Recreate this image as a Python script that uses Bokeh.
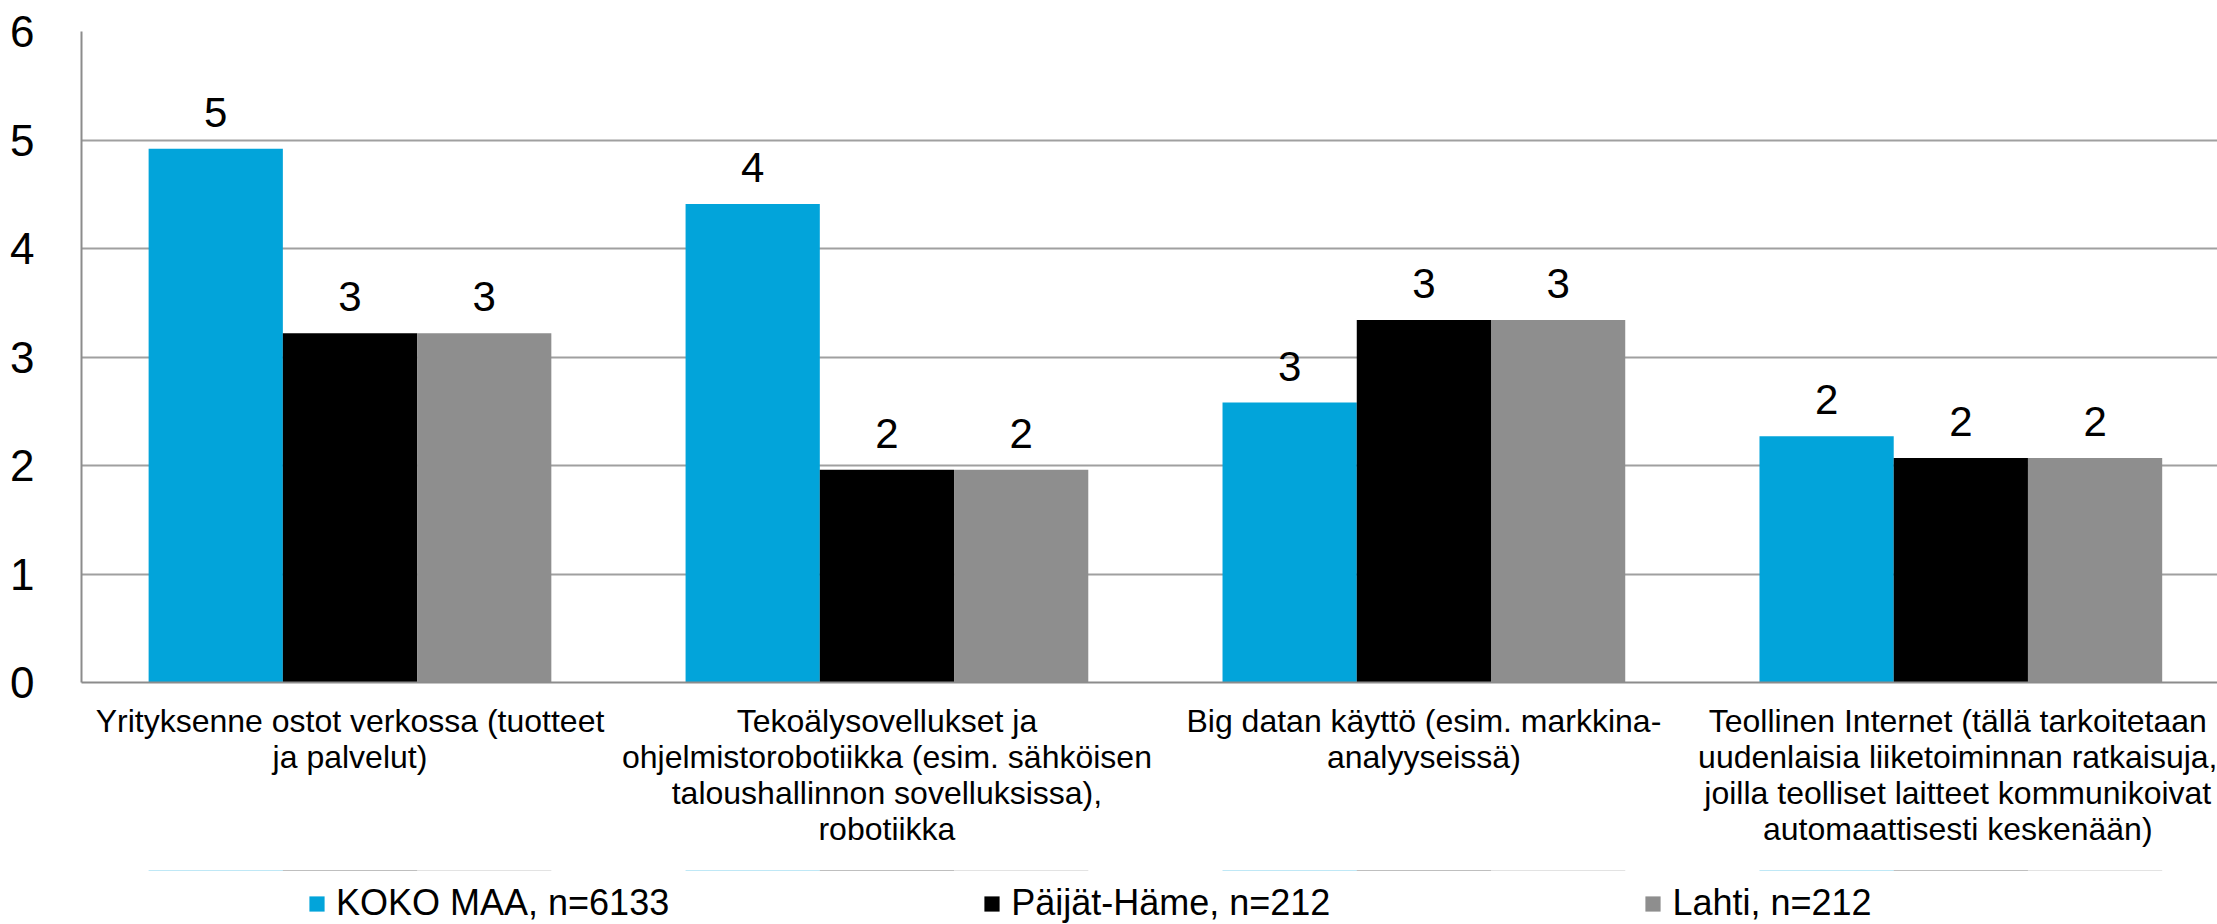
from bokeh.plotting import figure
from bokeh.models import ColumnDataSource, FixedTicker, Range1d, Legend, LegendItem
from bokeh.layouts import column
from bokeh.core.properties import value
from bokeh.embed import file_html
from bokeh.resources import INLINE

categories = [
    "Yrityksenne ostot verkossa (tuotteet\nja palvelut)",
    "Tekoälysovellukset ja\nohjelmistorobotiikka (esim. sähköisen\ntaloushallinnon sovelluksissa),\nrobotiikka",
    "Big datan käyttö (esim. markkina-\nanalyyseissä)",
    "Teollinen Internet (tällä tarkoitetaan\nuudenlaisia liiketoiminnan ratkaisuja,\njoilla teolliset laitteet kommunikoivat\nautomaattisesti keskenään)",
]
series_names = ["KOKO MAA, n=6133", "Päijät-Häme, n=212", "Lahti, n=212"]
koko_maa = [4.92, 4.41, 2.58, 2.27]
paijat_hame = [3.22, 1.96, 3.34, 2.07]
lahti = [3.22, 1.96, 3.34, 2.07]
y_ticks = [0, 1, 2, 3, 4, 5, 6]

colors = ["#02A4DA", "#000000", "#8E8E8E"]
FONT = "Liberation Sans"

W = 2217
H_MAIN, H_LEG = 870, 54
p = figure(width=W, height=H_MAIN, output_backend="svg", toolbar_location=None,
           x_range=Range1d(0, 3.978), y_range=Range1d(0, 6),
           min_border_left=81, min_border_top=31, min_border_bottom=188, min_border_right=0)
p.outline_line_color = None
p.background_fill_color = "white"
p.border_fill_color = "white"

centers = [i + 0.5 for i in range(len(categories))]
offsets = [-0.25, 0.0, 0.25]
bar_w = 0.25
all_series = [koko_maa, paijat_hame, lahti]
sources = []
for vals, off, col in zip(all_series, offsets, colors):
    src = ColumnDataSource(dict(x=[c + off for c in centers], top=vals,
                                lab=[f"{v:.0f}" for v in vals]))
    sources.append(src)
    p.vbar(x="x", top="top", width=bar_w, bottom=0, source=src,
           fill_color=col, line_color=None)
    p.text(x="x", y="top", text="lab", source=src, text_align="center",
           text_baseline="bottom", y_offset=-22, text_font=value(FONT),
           text_font_size="42px", text_color="black")

# axes
p.yaxis.ticker = FixedTicker(ticks=y_ticks)
p.yaxis.major_label_text_font = FONT
p.yaxis.major_label_text_font_size = "44px"
p.yaxis.major_label_text_color = "black"
p.yaxis.major_label_standoff = 41
p.yaxis.major_tick_line_color = None
p.yaxis.minor_tick_line_color = None
p.yaxis.axis_line_color = "#8C8C8C"
p.yaxis.axis_line_width = 2

p.xaxis.ticker = FixedTicker(ticks=centers)
p.xaxis.major_label_overrides = {c: lab for c, lab in zip(centers, categories)}
p.xaxis.major_label_text_font = FONT
p.xaxis.major_label_text_font_size = "32px"
p.xaxis.major_label_text_line_height = 1.0
p.xaxis.major_label_text_color = "black"
p.xaxis.major_label_standoff = 14
p.xaxis.major_tick_line_color = None
p.xaxis.minor_tick_line_color = None
p.xaxis.axis_line_color = "#8C8C8C"
p.xaxis.axis_line_width = 2

p.xgrid.grid_line_color = None
p.ygrid.grid_line_color = "#A0A0A0"
p.ygrid.grid_line_width = 2

# legend strip: zero-height swatch renderers (bottom == top) only supply the legend colours
lg = figure(width=W, height=H_LEG, output_backend="svg", toolbar_location=None,
            x_axis_type=None, y_axis_type=None, x_range=Range1d(0, 3.978),
            y_range=Range1d(-100, -99), min_border=0)
lg.outline_line_color = None
lg.grid.visible = False
swatches = [lg.vbar(x="x", top="top", bottom="top", width=bar_w, source=s,
                    fill_color=c, line_color=None) for s, c in zip(sources, colors)]
legend = Legend(items=[LegendItem(label=n, renderers=[r]) for n, r in zip(series_names, swatches)],
                orientation="horizontal", location=(226, 0), spacing=313,
                glyph_width=19, glyph_height=19, label_standoff=10, label_width=311,
                label_text_font=FONT, label_text_font_size="36px", label_text_color="black",
                border_line_color=None, background_fill_alpha=0, padding=0, margin=0)
lg.add_layout(legend, "center")

layout = column(p, lg, spacing=0)
open("out.html", "w").write(file_html(layout, INLINE))
